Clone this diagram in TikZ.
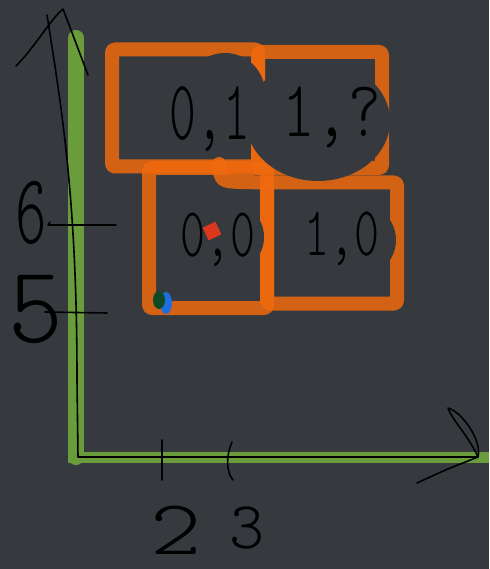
\documentclass[tikz,border=0pt]{standalone}
\usepackage{tikz}
\usepackage{graphicx}
\usepackage{xcolor}
\definecolor{slate}{RGB}{54,58,63}
\definecolor{boxorange}{RGB}{240,106,14}
\definecolor{axisgreen}{RGB}{106,156,60}
\definecolor{redmark}{RGB}{220,56,30}
\definecolor{blueink}{RGB}{30,110,225}
\definecolor{greenink}{RGB}{14,74,37}

\begin{document}
\begin{tikzpicture}[x=1pt,y=-1pt,
    brush/.style={draw=boxorange,line width=14pt,draw opacity=0.85,line cap=round,line join=round},
    cell/.style={brush,rectangle,rounded corners=3pt,inner sep=0pt,outer sep=0pt},
    pen/.style={draw=black,line width=1.6pt,line cap=round,line join=round},
    hand/.style={inner sep=0pt,anchor=base,text=black,font=\ttfamily\fontseries{l}\fontsize{#1}{#1}\selectfont}]
    \useasboundingbox (0,0) rectangle (489,569);
    \fill [slate] (0,0) rectangle (489,569);
    % green axes
    \coordinate (gtop) at (76,38);
    \coordinate (gcorner) at (76,457);
    \coordinate (gleft) at (68,457);
    \coordinate (gend) at (489,457);
    \draw [axisgreen,line width=16pt,line cap=round] (gtop) -- (gcorner);
    \draw [axisgreen,line width=11pt] (gleft) -- (gend);
    % cells
    \node [cell,minimum width=146pt,minimum height=117pt] (c01) at (185,108) {};
    \node [cell,minimum width=124pt,minimum height=116pt] (c11) at (320,110) {};
    \node [cell,minimum width=118pt,minimum height=140pt] (c00) at (208,238) {};
    \node [cell,minimum width=130pt,minimum height=121pt] (c10) at (332,243) {};
    \draw [brush] (219,164) .. controls (221,181) .. (240,182) -- (c10.north west);
    % erased spots
    \fill [slate] (225,93) circle [radius=40pt];
    \fill [slate] (318,121) ellipse [x radius=72pt,y radius=60pt];
    \fill [slate] (228,237) circle [radius=36pt];
    \fill [slate] (360,240) circle [radius=36pt];
    % marks
    \node [fill=redmark,rotate=25,minimum size=14pt,inner sep=0pt] (dot) at (212,231) {};
    \fill [blueink] (166,303) ellipse [x radius=6pt,y radius=11pt];
    \fill [greenink] (159,300) ellipse [x radius=6pt,y radius=9pt];
    % black axes
    \coordinate (ytop) at (47,15);
    \coordinate (orig) at (78,457);
    \coordinate (xtip) at (478,457);
    \draw [pen] (ytop) .. controls (62,110) and (77,200) .. (77,380) -- (orig) -- (xtip);
    \coordinate (yleft) at (16,66);
    \coordinate (yhead) at (63,9);
    \coordinate (yright) at (88,75);
    \draw [pen] (yleft) .. controls (35,47) and (50,20) .. (yhead) .. controls (68,22) .. (yright);
    \coordinate (xtail) at (417,483);
    \coordinate (xhook) at (448,408);
    \draw [pen] (xtail) .. controls (445,470) .. (xtip) .. controls (482,440) and (462,412) .. (xhook) .. controls (452,420) and (468,435) .. (xtip);
    % ticks
    \draw [pen] (50,222) -- (48,225) -- (116,225);
    \draw [pen] (45,312) -- (107,313);
    \draw [pen] (162,440) -- (162,480);
    \draw [pen] (232,442) .. controls (226,455) and (226,472) .. (233,480);
    \node [hand=100] (t6) at (31,243) {\scalebox{0.6}[1]{6}};
    \node [hand=110] (t5) at (36,342) {\scalebox{0.95}[1]{5}};
    \node [hand=78] (t2) at (176,554) {\scalebox{1.25}[1]{2}};
    \node [hand=67] (t3) at (247,548) {3};
    % cell labels
    \node [hand=85] (l01) at (210,140) {\scalebox{0.6}[1]{0,1}};
    \node [hand=80] (l11) at (332,137) {\scalebox{0.78}[1]{1,?}};
    \node [hand=70] (l00) at (218,256) {\scalebox{0.68}[1]{0,0}};
    \node [hand=70] (l10) at (342,255) {\scalebox{0.68}[1]{1,0}};
\end{tikzpicture}
\end{document}
